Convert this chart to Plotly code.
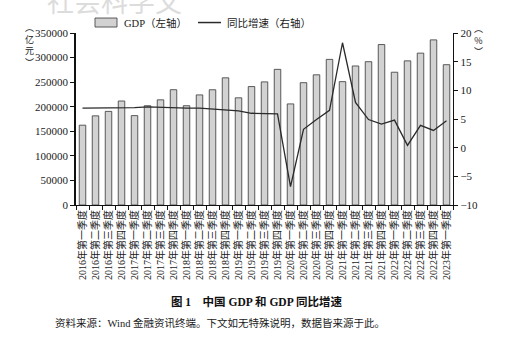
import plotly.graph_objects as go

# Quarterly China GDP (100 million yuan) and year-on-year real growth (%)
years = [2016, 2017, 2018, 2019, 2020, 2021, 2022, 2023]
quarter_names = ["一", "二", "三", "四"]
quarters = [f"{y}年第{q}季度" for y in years for q in quarter_names][:29]

gdp = [162410, 181400, 190500, 211600,
       181900, 202000, 214000, 234600,
       202000, 224000, 234500, 258800,
       218100, 241000, 250500, 276000,
       205700, 248900, 264900, 296300,
       251000, 282900, 291600, 326500,
       270200, 293300, 309000, 336000,
       285500]

growth = [6.9, 6.9, 6.9, 7.0,
          7.0, 7.1, 7.0, 7.0,
          6.9, 6.9, 6.7, 6.5,
          6.4, 6.0, 5.9, 5.9,
          -6.8, 3.2, 4.9, 6.5,
          18.3, 7.9, 4.9, 4.1,
          4.8, 0.4, 3.9, 3.0,
          4.7]

W, H = 512, 349
L, R, T, B = 76, 453, 33, 205.5   # plot-area edges in pixels

def px(x):
    return (x - L) / (R - L)

def py(y):
    return 1 - (y - T) / (B - T)

SERIF = "Liberation Serif, 'Noto Sans CJK SC', serif"
TXT = "#1a1a1a"

fig = go.Figure()
fig.add_trace(go.Bar(
    x=quarters, y=gdp, name="GDP（左轴）",
    marker=dict(color="#d2d2d2", line=dict(color="#4a4a4a", width=0.9)),
    width=0.5, showlegend=False,
))
fig.add_trace(go.Scatter(
    x=quarters, y=growth, name="同比增速（右轴）", yaxis="y2",
    mode="lines", line=dict(color="#2a2a2a", width=1.3),
    showlegend=False,
))

axis_common = dict(
    showgrid=False, zeroline=False, showline=True, linecolor="#111",
    ticks="outside", tickcolor="#111", ticklen=4, tickwidth=1.2,
    tickfont=dict(family=SERIF, size=11, color=TXT),
)

fig.update_layout(
    width=W, height=H,
    margin=dict(l=L, r=W - R, t=T, b=H - B),
    paper_bgcolor="white", plot_bgcolor="white",
    font=dict(family=SERIF, color=TXT),
    bargap=0.5,
    xaxis=dict(
        type="category", showgrid=False, zeroline=False, showline=True,
        linecolor="#111", linewidth=1.2, ticks="outside", tickson="boundaries",
        ticklen=4, tickcolor="#111", tickangle=-90,
        tickfont=dict(family=SERIF, size=10, color=TXT),
        range=[-0.5, len(quarters) - 0.5],
    ),
    yaxis=dict(range=[0, 350000], dtick=50000, tickformat="d",
               linewidth=1.6, **axis_common),
    yaxis2=dict(range=[-10, 20], dtick=5, overlaying="y", side="right",
                linewidth=1.4, **axis_common),
)

ann = []

# watermark across the top edge
ann.append(dict(x=px(45), y=py(0), xref="paper", yref="paper", xanchor="left",
                yanchor="middle", text="社会科学文", showarrow=False,
                font=dict(family="'Noto Sans CJK SC'", size=27, color="#dcdcdc")))

# axis unit labels, stacked vertically
def vlabel(x, y, t, size=9):
    ann.append(dict(x=px(x), y=py(y), xref="paper", yref="paper",
                    xanchor="center", yanchor="middle", text=t, borderpad=0,
                    showarrow=False,
                    font=dict(family="'Noto Sans CJK SC'", size=size, color=TXT)))

vlabel(29, 45, "︵<br>亿<br>元<br>︶")
vlabel(479, 40, "︵<br>%<br>︶")

# legend
shapes = [
    dict(type="rect", xref="paper", yref="paper",
         x0=px(95), x1=px(117), y0=py(27), y1=py(18),
         fillcolor="#d2d2d2", line=dict(color="#4a4a4a", width=0.9)),
    dict(type="line", xref="paper", yref="paper",
         x0=px(198), x1=px(221), y0=py(22.5), y1=py(22.5),
         line=dict(color="#2a2a2a", width=1.5)),
]
ann.append(dict(x=px(122), y=py(22.5), xref="paper", yref="paper", xanchor="left",
                yanchor="middle", text="GDP（左轴）", showarrow=False,
                font=dict(family=SERIF, size=10.5, color=TXT)))
ann.append(dict(x=px(225), y=py(22.5), xref="paper", yref="paper", xanchor="left",
                yanchor="middle", text="同比增速（右轴）", showarrow=False,
                font=dict(family=SERIF, size=10.5, color=TXT)))

# caption and source note
ann.append(dict(x=px(256), y=py(302), xref="paper", yref="paper", xanchor="center",
                yanchor="middle", text="<b>图 1　中国 GDP 和 GDP 同比增速</b>",
                showarrow=False, font=dict(family=SERIF, size=11.5, color="#111")))
ann.append(dict(x=px(53), y=py(324), xref="paper", yref="paper", xanchor="left",
                yanchor="middle",
                text="资料来源：Wind 金融资讯终端。下文如无特殊说明，数据皆来源于此。",
                showarrow=False, font=dict(family=SERIF, size=10.5, color=TXT)))

fig.update_layout(annotations=ann, shapes=shapes)
fig.write_html("out.html")
